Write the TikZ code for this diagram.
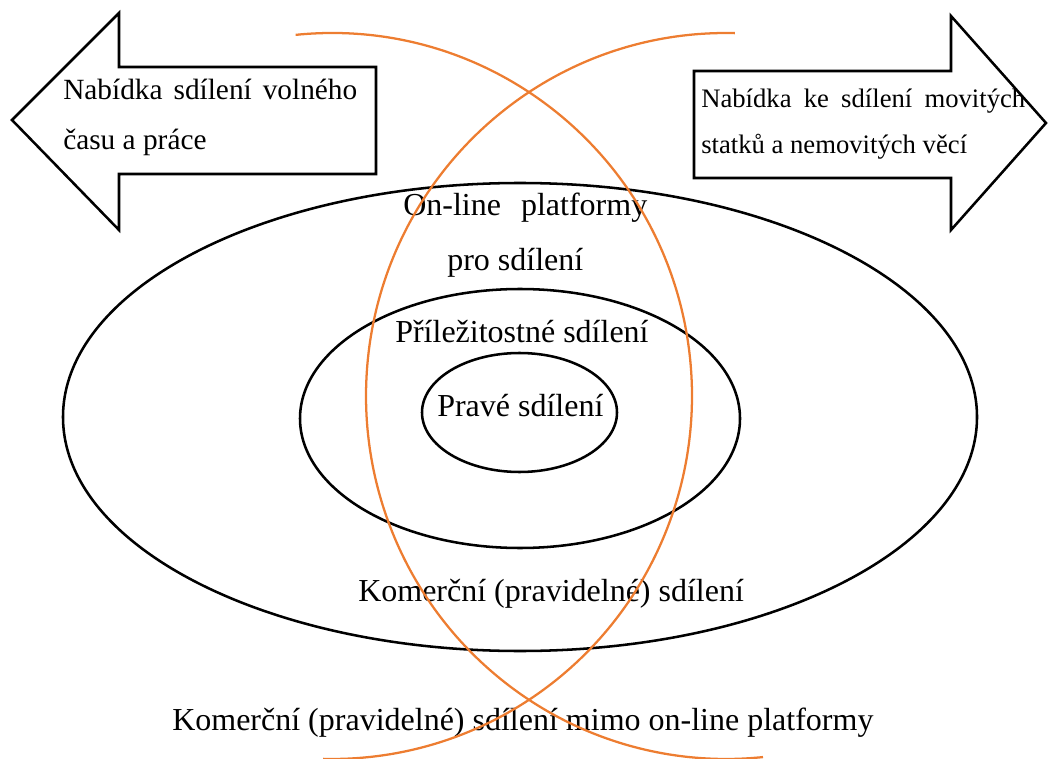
\documentclass[tikz,border=0pt]{standalone}
\usepackage{fontspec}
\setmainfont{Liberation Serif}
\definecolor{orng}{HTML}{ED7D31}
\begin{document}
\begin{tikzpicture}[x=0.75pt,y=0.75pt,
  blk/.style={draw=black,line width=1.9pt,line join=miter},
  org/.style={draw=orng,line width=1.7pt},
  bigtxt/.style={inner sep=0pt,anchor=base west,font=\fontsize{24}{28}\selectfont},
  lefttxt/.style={inner sep=0pt,anchor=base west,font=\fontsize{22}{26}\selectfont},
  righttxt/.style={inner sep=0pt,anchor=base west,font=\fontsize{20}{24}\selectfont}]
\useasboundingbox (0,0) rectangle (1049,758);
% arrows
\draw[blk] (12,638) -- (119,745) -- (119,691) -- (376,691) -- (376,584) -- (119,584) -- (119,528) -- cycle;
\draw[blk] (694,687) -- (951,687) -- (951,742) -- (1046,635) -- (951,528) -- (951,580) -- (694,580) -- cycle;
% ellipses
\draw[blk] (520,341) ellipse [x radius=457, y radius=234];
\draw[blk] (520,339.5) ellipse [x radius=220, y radius=129.5];
\draw[blk] (519.5,345.5) ellipse [x radius=97.5, y radius=59.5];
% texts
\node[lefttxt] (l1) at (63,658) {\makebox[220.5pt][s]{Nabídka sdílení volného}};
\node[lefttxt] (l2) at (63,608) {času a práce};
\node[righttxt] (r1) at (701,650) {\makebox[243pt][s]{Nabídka ke sdílení movitých}};
\node[righttxt] (r2) at (701,604) {statků a nemovitých věcí};
\node[bigtxt] (p1) at (403,542) {\makebox[183pt][s]{On-line platformy}};
\node[bigtxt] (p2) at (447,487) {pro sdílení};
\node[bigtxt] (pr) at (395,416) {Příležitostné sdílení};
\node[bigtxt] (pv) at (437,342) {Pravé sdílení};
\node[bigtxt] (km) at (358,157) {Komerční (pravidelné) sdílení};
\node[bigtxt] (mm) at (172,28) {Komerční (pravidelné) sdílení mimo on-line platformy};
% orange arcs
\draw[org] (332,362) ++(95.8:360 and 363) arc[start angle=95.8, end angle=-91.4, x radius=360, y radius=363];
\draw[org] (726,362) ++(88.6:360 and 363) arc[start angle=88.6, end angle=275.9, x radius=360, y radius=363];
\end{tikzpicture}
\end{document}
